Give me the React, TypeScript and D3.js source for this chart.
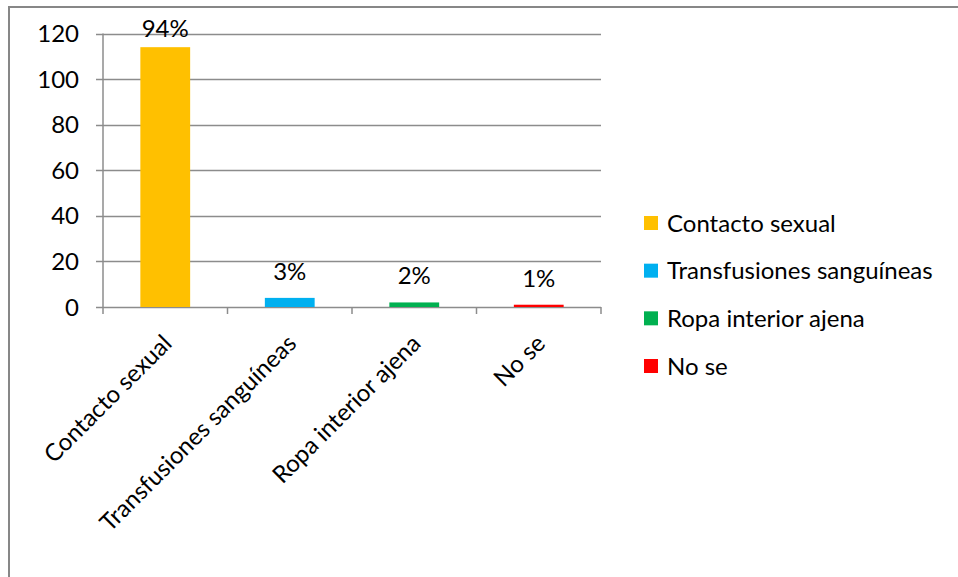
import React from "react";
import * as d3 from "d3";

const categories = ["Contacto sexual", "Transfusiones sanguíneas", "Ropa interior ajena", "No se"];
const values = [114, 4, 2, 1];
const percentLabels = ["94%", "3%", "2%", "1%"];
const colors = ["#FFC000", "#00B0F0", "#00B050", "#FF0000"];
const yTicks = [0, 20, 40, 60, 80, 100, 120];

const FONT = "Lato, 'Open Sans', sans-serif";

export default function App() {
  const W = 958, H = 577;
  const plot = { left: 103, right: 601, top: 33.5, bottom: 307 };
  const x = d3.scaleBand<string>().domain(categories).range([plot.left, plot.right]).paddingInner(0.6).paddingOuter(0.3);
  const xOuter = d3.scaleBand<string>().domain(categories).range([plot.left, plot.right]);
  const y = d3.scaleLinear().domain([0, 120]).range([plot.bottom, plot.top]);
  const grid = "#8C8C8C";
  const legendY = d3.scalePoint<string>().domain(categories).range([223, 366]);
  const fs = 24;

  return (
    <svg width={W} height={H} style={{ position: "absolute", left: 0, top: 0, background: "#fff" }} fontFamily={FONT}>
      <rect x={0} y={0} width={W} height={H} fill="#fff" />
      <rect x={9} y={7} width={1200} height={1200} fill="none" stroke="#878787" strokeWidth={2} />
      {yTicks.map((t) => (
        <g key={t}>
          <line x1={96} x2={plot.right} y1={Math.round(y(t)) + 0.5} y2={Math.round(y(t)) + 0.5} stroke={grid} strokeWidth={1.5} />
          <text x={79} y={y(t)} dy="0.36em" textAnchor="end" fontSize={fs} fill="#000">{t}</text>
        </g>
      ))}
      <line x1={plot.left} x2={plot.left} y1={plot.top} y2={plot.bottom + 7} stroke={grid} strokeWidth={1.5} />
      {categories.map((c) => (
        <line key={"tk" + c} x1={(xOuter(c) as number) + xOuter.bandwidth()} x2={(xOuter(c) as number) + xOuter.bandwidth()} y1={plot.bottom} y2={plot.bottom + 7} stroke={grid} strokeWidth={1.5} />
      ))}
      {categories.map((c, i) => {
        const top = y(values[i]);
        const cx = (x(c) as number) + x.bandwidth() / 2;
        const ly = Math.max(top - 18, 37);
        return (
          <g key={c}>
            <rect x={x(c)} y={top} width={x.bandwidth()} height={plot.bottom - top} fill={colors[i]} />
            <text x={cx} y={ly} textAnchor="middle" fontSize={fs} fill="#000">{percentLabels[i]}</text>
            <text transform={`translate(${cx + 8},${plot.bottom + 38}) rotate(-45)`} textAnchor="end" fontSize={fs} fill="#000">{c}</text>
          </g>
        );
      })}
      {categories.map((c, i) => (
        <g key={"lg" + c} transform={`translate(644,${legendY(c)})`}>
          <rect x={0} y={-7} width={14} height={14} fill={colors[i]} />
          <text x={23} y={0} dy="0.36em" fontSize={fs} fill="#000">{c}</text>
        </g>
      ))}
    </svg>
  );
}
